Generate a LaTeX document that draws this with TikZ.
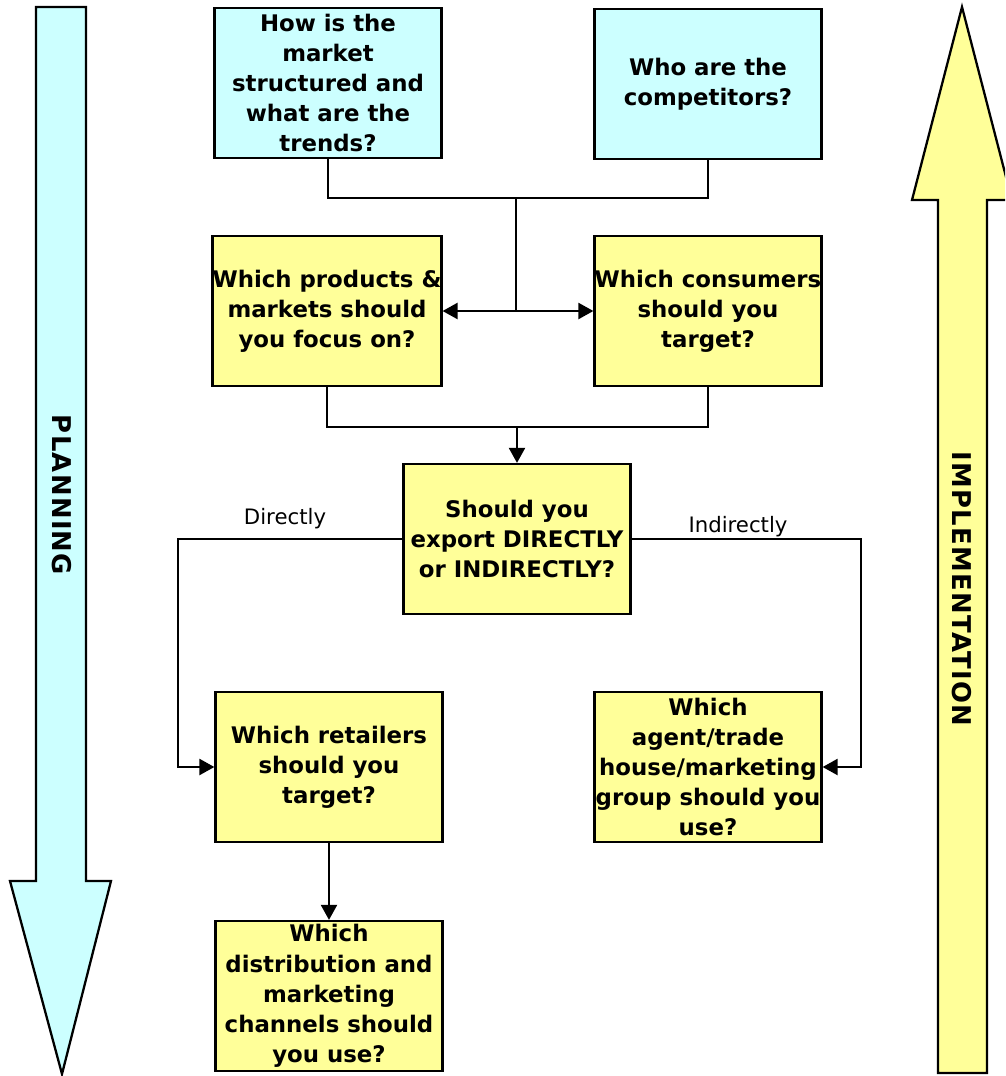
\documentclass[tikz,border=0pt]{standalone}
\usepackage{fontspec}
\setmainfont{DejaVu Sans}
\usetikzlibrary{arrows.meta}
\definecolor{qcyan}{HTML}{CCFFFF}
\definecolor{qyellow}{HTML}{FFFF99}
\begin{document}
\begin{tikzpicture}[
        x=0.02cm, y=-0.02cm,
        qbox/.style={rectangle, draw, line width=1.3pt,
          minimum width=4.54cm, minimum height=3cm,
          inner sep=0pt, align=center,
        font=\fontsize{13}{17.2}\selectfont\bfseries},
        link/.style={line width=1.3pt},
        lbl/.style={font=\fontsize{12.1}{14}\selectfont},
        bigword/.style={rotate=-90,
        font=\fontsize{14.7}{17}\selectfont\bfseries\addfontfeature{LetterSpace=5}},
        >={Triangle[length=3mm, width=3.2mm]},
      ]
      \clip (0,0) rectangle (1005,1076);

      % side arrows
      \draw[fill=qcyan, line width=1.3pt]
      (36,7) -- (86,7) -- (86,881) -- (111,881) -- (62,1074)
      -- (10,881) -- (36,881) -- cycle;
      \draw[fill=qyellow, line width=1.3pt]
      (938,1073) -- (938,200) -- (912,200) -- (962,7)
      -- (1012,200) -- (987,200) -- (987,1073) -- cycle;
      \node[bigword] (plan) at (62,495) {PLANNING};
      \node[bigword] (impl) at (962,589) {IMPLEMENTATION};

      \node[qbox, fill=qcyan] (market) at (328, 83)
      {How is the\\ market\\ structured and\\ what are the\\ trends?};

      \node[qbox, fill=qcyan] (compet) at (708, 84)
      {Who are the\\ competitors?};

      \node[qbox, fill=qyellow] (products) at (327, 311)
      {Which products \&\\ markets should\\ you focus on?};

      \node[qbox, fill=qyellow] (consumers) at (708, 311)
      {Which consumers\\ should you\\ target?};

      \node[qbox, fill=qyellow] (export) at (517, 539)
      {Should you\\ export DIRECTLY\\ or INDIRECTLY?};

      \node[qbox, fill=qyellow] (retail) at (329, 767)
      {Which retailers\\ should you\\ target?};

      \node[qbox, fill=qyellow] (agent) at (708, 767)
      {Which\\ agent/trade\\ house/marketing\\ group should you\\ use?};

      \node[qbox, fill=qyellow] (channels) at (329, 996)
      {Which\\ distribution and\\ marketing\\ channels should\\ you use?};

      % connectors
      \coordinate (top) at (516,198);
      \coordinate (mid) at (517,427);
      \coordinate (dleft) at (178,539);
      \coordinate (dright) at (861,539);

      \draw[link] (market.south) |- (top);
      \draw[link] (compet.south) |- (top);
      \draw[link] (top) -- (top |- products.east);
      \draw[link, <->] (products.east) -- (consumers.west);

      \draw[link] (products.south) |- (mid) -| (consumers.south);
      \draw[link, ->] (mid) -- (export.north);

      \draw[link, ->] (export.west) -- (dleft) |- (retail.west);
      \draw[link, ->] (export.east) -- (dright) |- (agent.east);
      \node[lbl] (direct) at (285,519) {Directly};
      \node[lbl] (indirect) at (738,527) {Indirectly};

      \draw[link, ->] (retail.south) -- (channels.north);

    \end{tikzpicture}
\end{document}
